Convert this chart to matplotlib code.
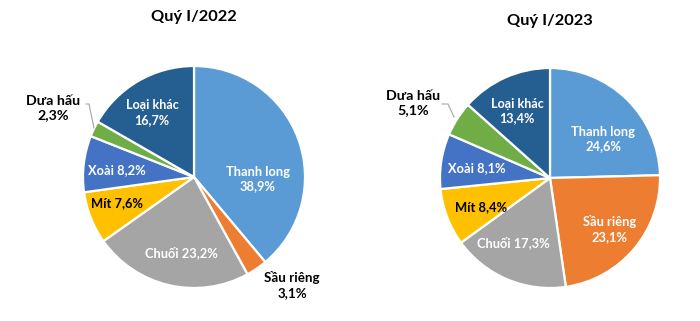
import matplotlib
matplotlib.use("Agg")
import matplotlib.pyplot as plt

plt.rcParams['font.family'] = ['Lato', 'DejaVu Sans']

categories = ["Thanh long", "Sầu riêng", "Chuối", "Mít", "Xoài", "Dưa hấu", "Loại khác"]
values_2022 = [38.9, 3.1, 23.2, 7.6, 8.2, 2.3, 16.7]
values_2023 = [24.6, 23.1, 17.3, 8.4, 8.1, 5.1, 13.4]
titles = ["Quý I/2022", "Quý I/2023"]

colors = ["#5B9BD5", "#ED7D31", "#A5A5A5", "#FFC000", "#4472C4", "#70AD47", "#255E91"]

# label layout: (x, y) in pie-radius units, two-line flag, text color, font size
layout_2022 = [
    ((0.577, -0.02), True, "white", 9.3),
    ((0.883, -0.975), True, "black", 9.6),
    ((-0.117, -0.685), False, "white", 9.3),
    ((-0.694, -0.234), False, "black", 9.3),
    ((-0.694, 0.063), False, "white", 9.3),
    ((-1.27, 0.62), True, "black", 10.3),
    ((-0.378, 0.58), True, "white", 9.1),
]
layout_2023 = [
    ((0.482, 0.355), True, "white", 9.3),
    ((0.545, -0.464), True, "white", 9.3),
    ((-0.336, -0.591), False, "white", 9.3),
    ((-0.627, -0.264), False, "black", 9.3),
    ((-0.664, 0.091), False, "white", 9.3),
    ((-1.245, 0.68), True, "black", 10.3),
    ((-0.30, 0.61), True, "white", 9.1),
]
# leader lines for Dưa hấu (pixel coords)
leader_2022 = [(86, 104), (89, 104), (94, 128)]
leader_2023 = [(442, 104), (448, 104), (454, 117)]

W, H = 700, 321
fig = plt.figure(figsize=(W / 100, H / 100), dpi=100)

def fmt(v):
    return f"{v:.1f}".replace(".", ",") + "%"

def draw(center, radius, values, layout, leader, title, title_y):
    cx, cy = center
    ax = fig.add_axes([(cx - radius) / W, (H - cy - radius) / H, 2 * radius / W, 2 * radius / H])
    ax.pie(values, colors=colors, startangle=90, counterclock=False, radius=1,
           wedgeprops=dict(edgecolor="white", linewidth=1.6))
    ax.set_xlim(-1, 1)
    ax.set_ylim(-1, 1)
    ax.set_aspect("equal")
    ax.axis("off")
    for cat, v, ((x, y), two, col, fs) in zip(categories, values, layout):
        s = f"{cat}\n{fmt(v)}" if two else f"{cat} {fmt(v)}"
        ax.text(x, y, s, ha="center", va="center", fontsize=fs, fontweight="bold",
                color=col, linespacing=1.25, clip_on=False)
    xs = [(px - cx) / radius for px, py in leader]
    ys = [(cy - py) / radius for px, py in leader]
    ax.plot(xs, ys, color="#A6A6A6", lw=0.8, clip_on=False)
    fig.text(cx / W, 1 - title_y / H, title, ha="center", va="center",
             fontsize=11.8, fontweight="bold", color="#000000")

draw((194, 177), 111, values_2022, layout_2022, leader_2022, titles[0], 17)
draw((550, 178), 110, values_2023, layout_2023, leader_2023, titles[1], 21)

fig.savefig("out.png", dpi=100, facecolor="white")
